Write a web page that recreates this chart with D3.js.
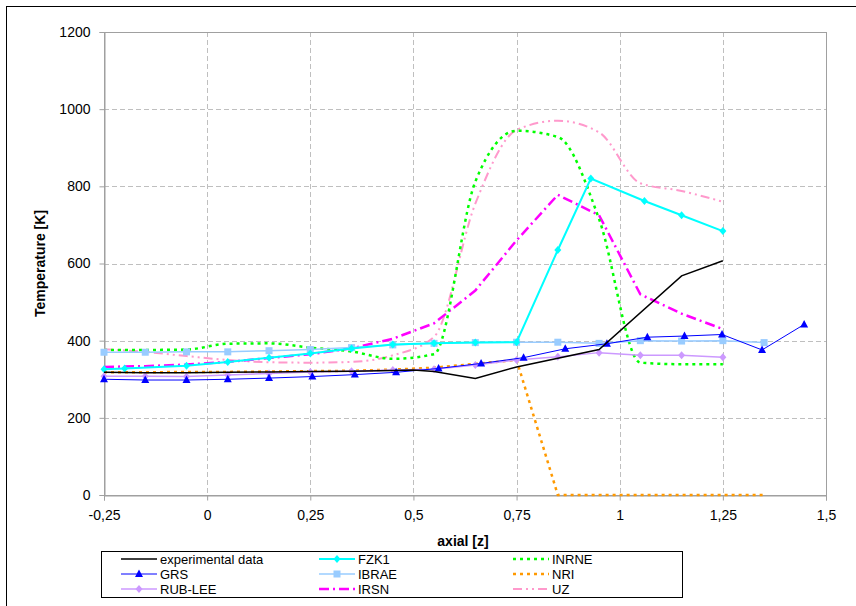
<!DOCTYPE html>
<html>
<head>
<meta charset="utf-8">
<script src="https://cdn.jsdelivr.net/npm/d3@7"></script>
<style>
body { margin: 0; background: #fff; }
text { font-family: "Liberation Sans", Arial, sans-serif; fill: #000; }
</style>
</head>
<body>
<div id="chart"></div>
<script>
// axial positions [z] and temperatures [K]
var zGrid = [-0.25, -0.15, -0.05, 0.05, 0.15, 0.25, 0.35, 0.45, 0.55, 0.65, 0.75, 0.85, 0.95, 1.05, 1.15, 1.25, 1.35];

var expZ = [-0.25, -0.15, -0.05, 0.05, 0.15, 0.25, 0.35, 0.45, 0.5, 0.55, 0.65, 0.75, 0.95, 1.15, 1.25];
var expT = [318, 317, 317, 318, 319, 320, 321, 323, 324, 320, 302, 332, 377, 568, 607];

var fzkZ = [-0.25, -0.2, -0.05, 0.05, 0.15, 0.25, 0.35, 0.45, 0.55, 0.65, 0.75, 0.85, 0.93, 1.06, 1.15, 1.25];
var fzkT = [326, 328, 335, 345, 356, 367, 380, 390, 393, 395, 396, 635, 820, 762, 725, 684];

var inrneZ = zGrid.slice(0, 16);
var inrneT = [376, 376, 377, 392, 393, 382, 372, 353, 365, 812, 944, 928, 715, 343, 339, 339];

var grsZ = [-0.25, -0.15, -0.05, 0.05, 0.15, 0.255, 0.358, 0.458, 0.561, 0.664, 0.767, 0.868, 0.969, 1.067, 1.157, 1.248, 1.345, 1.447];
var grsT = [300, 298, 298, 300, 303, 307, 312, 318, 328, 341, 356, 379, 392, 409, 412, 416, 376, 442];

var ibraeZ = zGrid;
var ibraeT = [370, 370, 371, 371, 374, 377, 382, 389, 393, 395, 396, 396, 393, 400, 399, 400, 395];

var nriZ = zGrid;
var nriT = [318, 318, 319, 319, 320, 321, 322, 325, 330, 340, 350, 0, 0, 0, 0, 0, 0];

var rubZ = zGrid.slice(0, 16);
var rubT = [308, 308, 307, 311, 315, 319, 321, 324, 326, 337, 350, 358, 369, 362, 362, 357];

var irsnZ = zGrid.slice(0, 16);
var irsnT = [332, 334, 338, 345, 355, 365, 380, 405, 445, 530, 660, 778, 725, 520, 470, 430];

var uzZ = zGrid.slice(0, 16);
var uzT = [378, 371, 360, 350, 344, 343, 345, 362, 410, 755, 946, 970, 940, 808, 788, 760];

var xTicks = [-0.25, 0, 0.25, 0.5, 0.75, 1, 1.25, 1.5];
var yTicks = [0, 200, 400, 600, 800, 1000, 1200];

var W = 856, H = 606;
var plot = {left: 104, right: 826, top: 32, bottom: 495};

var series = [
    {name: "experimental data", z: expZ, t: expT, color: "#000000", width: 1.5, dash: null, marker: null, smooth: false},
    {name: "FZK1", z: fzkZ, t: fzkT, color: "#00FFFF", width: 2, dash: null, marker: "diamond", smooth: false},
    {name: "INRNE", z: inrneZ, t: inrneT, color: "#00FF00", width: 2.5, dash: "3,4", marker: null, smooth: true},
    {name: "GRS", z: grsZ, t: grsT, color: "#0000FF", width: 1, dash: null, marker: "triangle", smooth: false},
    {name: "IBRAE", z: ibraeZ, t: ibraeT, color: "#99CCFF", width: 1.5, dash: null, marker: "square", smooth: false},
    {name: "NRI", z: nriZ, t: nriT, color: "#FF9900", width: 2.5, dash: "3,4", marker: null, smooth: false},
    {name: "RUB-LEE", z: rubZ, t: rubT, color: "#CC99FF", width: 1.5, dash: null, marker: "diamond", smooth: false},
    {name: "IRSN", z: irsnZ, t: irsnT, color: "#FF00FF", width: 2.5, dash: "10,4,2,4", marker: null, smooth: false},
    {name: "UZ", z: uzZ, t: uzT, color: "#FF99CC", width: 2, dash: "9,4,2,4,2,4", marker: null, smooth: true}
];

var x = d3.scaleLinear().domain([-0.25, 1.5]).range([plot.left, plot.right]);
var y = d3.scaleLinear().domain([0, 1200]).range([plot.bottom, plot.top]);

var svg = d3.select("#chart").append("svg")
    .attr("width", W)
    .attr("height", H);

// outer chart frame (runs off the right/bottom edge like the original)
svg.append("rect")
    .attr("x", 6.5).attr("y", 6.5)
    .attr("width", W).attr("height", H)
    .attr("fill", "#fff")
    .attr("stroke", "#000");

// gridlines
svg.append("g").selectAll("line.hg")
    .data(yTicks.slice(1, -1))
    .enter().append("line")
    .attr("x1", plot.left).attr("x2", plot.right)
    .attr("y1", function (d) { return Math.round(y(d)) + 0.5; })
    .attr("y2", function (d) { return Math.round(y(d)) + 0.5; })
    .attr("stroke", "#BFBFBF")
    .attr("stroke-dasharray", "5,3");

svg.append("g").selectAll("line.vg")
    .data(xTicks.slice(1, -1))
    .enter().append("line")
    .attr("y1", plot.top).attr("y2", plot.bottom)
    .attr("x1", function (d) { return Math.round(x(d)) + 0.5; })
    .attr("x2", function (d) { return Math.round(x(d)) + 0.5; })
    .attr("stroke", "#BFBFBF")
    .attr("stroke-dasharray", "5,3");

// plot area border
svg.append("rect")
    .attr("x", plot.left + 0.5).attr("y", plot.top + 0.5)
    .attr("width", plot.right - plot.left).attr("height", plot.bottom - plot.top)
    .attr("fill", "none")
    .attr("stroke", "#A0A0A0");

// axes
var xAxis = svg.append("g")
    .attr("transform", "translate(0," + (plot.bottom + 0.5) + ")")
    .call(d3.axisBottom(x).tickValues(xTicks).tickSize(5).tickPadding(10)
        .tickFormat(function (d) { return String(d).replace(".", ","); }));
var yAxis = svg.append("g")
    .attr("transform", "translate(" + (plot.left + 0.5) + ",0)")
    .call(d3.axisLeft(y).tickValues(yTicks).tickSize(5).tickPadding(9)
        .tickFormat(function (d) { return String(d); }));

[xAxis, yAxis].forEach(function (a) {
    a.select(".domain").attr("stroke", "#A0A0A0");
    a.selectAll(".tick line").attr("stroke", "#A0A0A0");
    a.selectAll(".tick text")
        .style("font-size", "14px")
        .style("font-family", "'Liberation Sans', Arial, sans-serif")
        .attr("fill", "#000");
});

// axis titles
svg.append("text")
    .attr("x", 463).attr("y", 546)
    .attr("text-anchor", "middle")
    .style("font-size", "14px").style("font-weight", "bold")
    .text("axial [z]");

svg.append("text")
    .attr("transform", "translate(45," + ((plot.top + plot.bottom) / 2) + ") rotate(-90)")
    .attr("text-anchor", "middle")
    .style("font-size", "14px").style("font-weight", "bold")
    .text("Temperature [K]");

// series
function drawMarker(g, kind, cx, cy, color) {
    if (kind === "triangle") {
        g.append("path")
            .attr("d", "M" + cx + "," + (cy - 4.5) + "L" + (cx + 4) + "," + (cy + 3) + "L" + (cx - 4) + "," + (cy + 3) + "Z")
            .attr("fill", color);
    } else if (kind === "square") {
        g.append("rect")
            .attr("x", cx - 3.5).attr("y", cy - 3.5)
            .attr("width", 7).attr("height", 7)
            .attr("fill", color);
    } else if (kind === "diamond") {
        g.append("path")
            .attr("d", "M" + cx + "," + (cy - 4) + "L" + (cx + 3.5) + "," + cy + "L" + cx + "," + (cy + 4) + "L" + (cx - 3.5) + "," + cy + "Z")
            .attr("fill", color);
    }
}

var drawOrder = [8, 7, 2, 5, 4, 1, 6, 3, 0];
drawOrder.forEach(function (k) {
    var s = series[k];
    var pts = s.z.map(function (z, i) { return [z, s.t[i]]; });
    var line = d3.line()
        .x(function (d) { return x(d[0]); })
        .y(function (d) { return y(d[1]); })
        .curve(s.smooth ? d3.curveMonotoneX : d3.curveLinear);
    var g = svg.append("g");
    g.append("path")
        .datum(pts)
        .attr("d", line)
        .attr("fill", "none")
        .attr("stroke", s.color)
        .attr("stroke-width", s.width)
        .attr("stroke-dasharray", s.dash);
    if (s.marker) {
        pts.forEach(function (d) {
            drawMarker(g, s.marker, x(d[0]), y(d[1]), s.color);
        });
    }
});

// legend
var leg = {x: 101, y: 551, w: 581, h: 46};
svg.append("rect")
    .attr("x", leg.x + 0.5).attr("y", leg.y + 0.5)
    .attr("width", leg.w).attr("height", leg.h)
    .attr("fill", "#fff")
    .attr("stroke", "#000");

var colX = [121, 319, 513];
var rowY = [559, 574, 589];
series.forEach(function (s, i) {
    var cx = colX[i % 3], cy = rowY[Math.floor(i / 3)];
    var g = svg.append("g");
    g.append("line")
        .attr("x1", cx).attr("x2", cx + 36)
        .attr("y1", cy).attr("y2", cy)
        .attr("stroke", s.color)
        .attr("stroke-width", s.width)
        .attr("stroke-dasharray", s.dash);
    if (s.marker) drawMarker(g, s.marker, cx + 18, cy, s.color);
    g.append("text")
        .attr("x", cx + 39).attr("y", cy + 4.5)
        .style("font-size", "13px")
        .text(s.name);
});
</script>
</body>
</html>
